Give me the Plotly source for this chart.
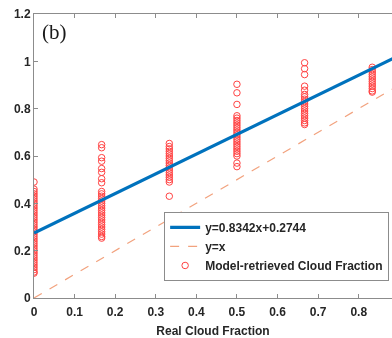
import plotly.graph_objects as go

# Real cloud fraction categories
real_cf = [0.0, 1/6, 1/3, 0.5, 2/3, 5/6]

# Model-retrieved values per real fraction
col_0 = [0.49, 0.46, 0.45, 0.44, 0.43, 0.42, 0.41, 0.40, 0.39, 0.38, 0.37, 0.36,
         0.35, 0.34, 0.33, 0.32, 0.31, 0.30, 0.29, 0.28, 0.27, 0.26, 0.25, 0.24,
         0.23, 0.22, 0.21, 0.20, 0.19, 0.18, 0.17, 0.16, 0.15, 0.14, 0.13, 0.12,
         0.11, 0.105]
col_1 = [0.648, 0.635, 0.593, 0.578, 0.547, 0.531, 0.504, 0.487, 0.45, 0.44, 0.43,
         0.42, 0.41, 0.40, 0.39, 0.38, 0.37, 0.36, 0.35, 0.34, 0.33, 0.32, 0.31,
         0.30, 0.29, 0.28, 0.27, 0.26, 0.253]
col_2 = [0.653, 0.64, 0.63, 0.62, 0.61, 0.60, 0.59, 0.58, 0.57, 0.56, 0.55, 0.54,
         0.53, 0.52, 0.51, 0.50, 0.49, 0.43]
col_3 = [0.903, 0.867, 0.818, 0.77, 0.76, 0.75, 0.74, 0.73, 0.72, 0.71, 0.70,
         0.69, 0.68, 0.67, 0.66, 0.65, 0.64, 0.63, 0.62, 0.61, 0.60, 0.57, 0.555]
col_4 = [0.994, 0.969, 0.944, 0.895, 0.878, 0.86, 0.85, 0.84, 0.83, 0.82, 0.81,
         0.80, 0.79, 0.78, 0.77, 0.76, 0.75, 0.74, 0.733]
col_5 = [0.975, 0.965, 0.955, 0.945, 0.935, 0.925, 0.915, 0.905, 0.895, 0.885,
         0.875, 0.87]
columns = [col_0, col_1, col_2, col_3, col_4, col_5]

# Fit parameters
slope = 0.8342
intercept = 0.2744
fit_x = [0.0, 1.0]

x_ticks = [0, 0.1, 0.2, 0.3, 0.4, 0.5, 0.6, 0.7, 0.8]
x_labels = ["0", "0.1", "0.2", "0.3", "0.4", "0.5", "0.6", "0.7", "0.8"]
y_ticks = [0, 0.2, 0.4, 0.6, 0.8, 1.0, 1.2]
y_labels = ["0", "0.2", "0.4", "0.6", "0.8", "1", "1.2"]

sx, sy = [], []
for xv, col in zip(real_cf, columns):
    for v in col:
        sx.append(xv)
        sy.append(v)

fig = go.Figure()
fig.add_trace(go.Scatter(
    x=sx, y=sy, mode="markers", name="Model-retrieved Cloud Fraction",
    marker=dict(symbol="circle-open", size=6.5, color="#ff2020", line=dict(width=1)),
    opacity=0.85, legendrank=3))
fig.add_trace(go.Scatter(
    x=fit_x, y=[slope * v + intercept for v in fit_x], mode="lines",
    name="y=0.8342x+0.2744", line=dict(color="#0072BD", width=3.2), legendrank=1))
fig.add_trace(go.Scatter(
    x=fit_x, y=fit_x, mode="lines", name="y=x",
    line=dict(color="#F2A27E", width=1.2, dash="dash"), legendrank=2))

axis_font = dict(family="Liberation Sans, Arial", size=12, color="#262626", weight="bold")

fig.update_layout(
    width=392, height=338,
    margin=dict(l=34, r=0, t=14, b=40),
    paper_bgcolor="white", plot_bgcolor="white",
    showlegend=True,
    legend=dict(
        x=0.992, y=0.06, xanchor="right", yanchor="bottom",
        bgcolor="white", bordercolor="#8c8c8c", borderwidth=1,
        font=dict(family="Liberation Sans, Arial", size=12, color="#262626", weight="bold"),
        tracegroupgap=0, itemwidth=30),
    annotations=[dict(
        text="(b)", xref="paper", yref="paper", x=0.018, y=0.935,
        xanchor="left", yanchor="middle", showarrow=False,
        font=dict(family="Liberation Serif, Times New Roman", size=21, color="#1a1a1a"))],
)
fig.update_xaxes(
    range=[0, 0.882], tickvals=x_ticks, ticktext=x_labels,
    showline=True, linecolor="#8c8c8c", linewidth=1, mirror="ticks",
    ticks="inside", ticklen=4, tickcolor="#8c8c8c", ticklabelstandoff=3,
    ticklabeloverflow="allow",
    showgrid=False, zeroline=False, tickfont=axis_font,
    title=dict(text="Real Cloud Fraction", font=axis_font, standoff=8))
fig.update_yaxes(
    range=[0, 1.2], tickvals=y_ticks, ticktext=y_labels,
    showline=True, linecolor="#8c8c8c", linewidth=1,
    ticks="inside", ticklen=4, tickcolor="#8c8c8c",
    ticklabeloverflow="allow",
    showgrid=False, zeroline=False, tickfont=axis_font)

# remove the page's default body margin so the figure sits at the window's top-left
fig.write_html("out.html",
               config={"displayModeBar": False},
               post_script="document.body.style.margin='0';document.body.style.overflow='hidden';")
